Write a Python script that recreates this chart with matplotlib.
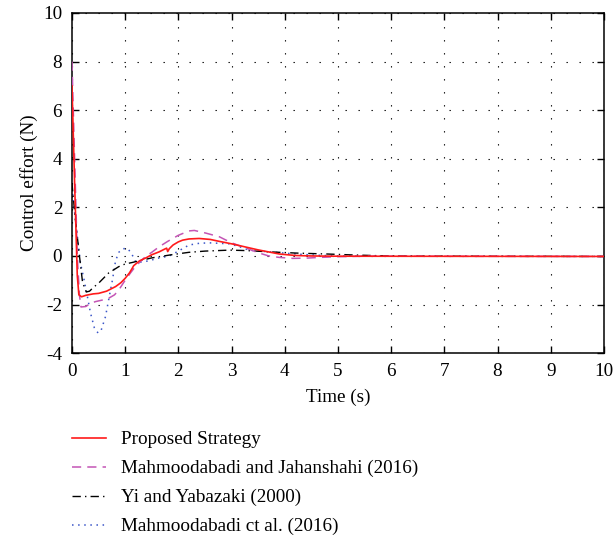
import numpy as np
import matplotlib
matplotlib.use("Agg")
import matplotlib.pyplot as plt

plt.rcParams["font.family"] = ["Liberation Serif", "DejaVu Serif"]
plt.rcParams["axes.unicode_minus"] = False

# Proposed strategy
t_prop = [0, 0.05, 0.1, 0.13, 0.18, 0.26, 0.4, 0.5, 0.65, 0.82, 0.92, 1.0, 1.08, 1.13,
          1.16, 1.27, 1.39, 1.5, 1.64, 1.74, 1.78, 1.8, 1.83, 1.9, 2.0, 2.08, 2.2, 2.39,
          2.6, 2.77, 3.0, 3.3, 3.5, 3.9, 4.2, 4.5, 5.0, 10]
u_prop = [7.0, 3.0, -0.8, -1.6, -1.68, -1.62, -1.56, -1.54, -1.45, -1.26, -1.1, -0.92, -0.7, -0.52,
          -0.4, -0.2, -0.08, 0.05, 0.17, 0.28, 0.32, 0.18, 0.3, 0.45, 0.58, 0.65, 0.7, 0.72,
          0.68, 0.6, 0.5, 0.35, 0.25, 0.08, 0.02, 0.0, -0.01, -0.02]

# Mahmoodabadi and Jahanshahi (2016)
t_mj = [0, 0.05, 0.1, 0.14, 0.17, 0.26, 0.35, 0.44, 0.6, 0.69, 0.8, 0.88, 1.0, 1.1, 1.19,
        1.3, 1.38, 1.5, 1.64, 1.8, 2.0, 2.2, 2.3, 2.5, 2.77, 3.0, 3.3, 3.52, 3.7, 3.9,
        4.15, 4.4, 4.65, 5.0, 5.5, 10]
u_mj = [8.0, 4.0, 0.0, -1.6, -2.1, -2.08, -1.95, -1.88, -1.8, -1.74, -1.6, -1.4, -1.0, -0.7, -0.44,
        -0.2, -0.03, 0.15, 0.38, 0.6, 0.85, 1.03, 1.05, 0.95, 0.79, 0.54, 0.3, 0.12, 0.0, -0.06,
        -0.1, -0.09, -0.06, -0.03, -0.01, -0.02]

# Yi and Yabazaki (2000)
t_yy = [0, 0.06, 0.13, 0.2, 0.27, 0.33, 0.4, 0.51, 0.6, 0.69, 0.8, 0.88, 1.0, 1.13, 1.3,
        1.5, 1.64, 1.9, 2.2, 2.5, 2.96, 3.3, 3.7, 4.2, 4.8, 5.3, 5.77, 6.5, 10]
u_yy = [3.0, 1.6, 0.2, -1.1, -1.48, -1.45, -1.3, -1.1, -0.9, -0.7, -0.55, -0.44, -0.33, -0.27, -0.18,
        -0.08, -0.03, 0.06, 0.15, 0.2, 0.24, 0.22, 0.17, 0.12, 0.08, 0.04, 0.01, -0.01, -0.02]

# Mahmoodabadi et al. (2016)
t_me = [0, 0.05, 0.1, 0.16, 0.23, 0.29, 0.35, 0.42, 0.49, 0.55, 0.63, 0.69, 0.76, 0.82, 0.88,
        0.96, 1.05, 1.12, 1.2, 1.3, 1.45, 1.6, 1.83, 2.0, 2.2, 2.39, 2.58, 2.96, 3.15, 3.33,
        3.7, 4.1, 4.5, 5.0, 10]
u_me = [2.8, 1.8, 0.8, -0.3, -1.0, -1.67, -2.36, -2.95, -3.17, -3.05, -2.5, -1.8, -1.0, -0.2, 0.15,
        0.3, 0.3, 0.1, -0.25, -0.25, -0.2, -0.1, 0.0, 0.2, 0.45, 0.52, 0.54, 0.5, 0.38, 0.24,
        0.17, 0.1, 0.04, 0.0, -0.02]

labels = ["Proposed Strategy", "Mahmoodabadi and Jahanshahi (2016)",
          "Yi and Yabazaki (2000)", "Mahmoodabadi ct al. (2016)"]

fs = 13.8

fig = plt.figure(figsize=(6.15, 5.4), dpi=100)
ax = fig.add_axes([0.117, 0.346, 0.865, 0.630])

ax.plot(t_prop, u_prop, color="#ff1a1a", lw=1.2, label=labels[0], zorder=5)
ax.plot(t_mj, u_mj, color="#c455b5", lw=1.1, ls=(0, (6, 4)), label=labels[1], zorder=4)
ax.plot(t_yy, u_yy, color="black", lw=1.0, ls=(0, (6, 3, 1, 3)), label=labels[2], zorder=3)
ax.plot(t_me, u_me, color="#3a55c8", lw=1.1, ls=(0, (1, 3)), label=labels[3], zorder=2)

ax.set_xlim(0, 10)
ax.set_ylim(-4, 10)
ax.set_xticks(range(0, 11))
ax.set_yticks(range(-4, 11, 2))
ax.grid(True, color="black", lw=0.8, ls=(0, (1.2, 10.5)))
ax.tick_params(direction="in", length=5, width=1, labelsize=fs, top=True, right=True)
ax.tick_params(axis="x", pad=7)
ax.tick_params(axis="y", pad=7)
for s in ax.spines.values():
    s.set_linewidth(1.1)

ax.set_xlabel("Time (s)", fontsize=fs, labelpad=6)
ax.set_ylabel("Control effort (N)", fontsize=fs, labelpad=4)

fig.legend(loc="upper left", bbox_to_anchor=(0.117, 0.202), frameon=False,
           fontsize=fs, handlelength=1.8, handletextpad=0.75, labelspacing=0.6,
           borderpad=0, borderaxespad=0)

fig.savefig("out.png", dpi=100)
